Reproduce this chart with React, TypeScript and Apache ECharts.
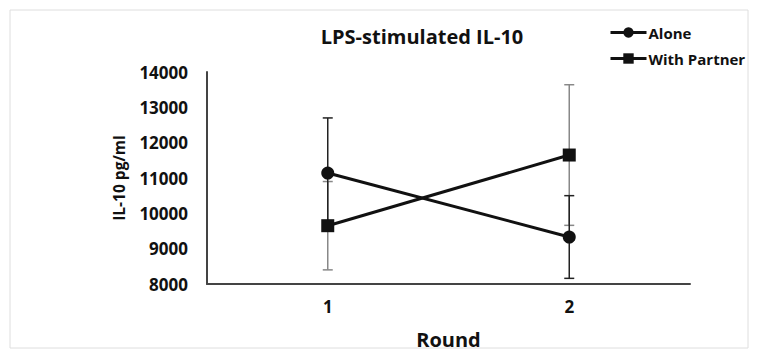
import React, { useEffect, useRef } from "react";
import * as echarts from "echarts";

const categories = ["1", "2"];
const aloneValues = [11140, 9330];
const partnerValues = [9650, 11650];
const aloneErr = [1560, 1170];
const partnerErr = [1250, 1990];
const seriesNames = ["Alone", "With Partner"];
const yTicks = [8000, 14000, 1000];

const FONT = "'Open Sans', 'Noto Sans', sans-serif";

export default function App() {
  const ref = useRef<HTMLDivElement>(null);
  useEffect(() => {
    if (!ref.current) return;
    const chart = echarts.init(ref.current, undefined, { renderer: "svg" });
    const errData = (vals: number[], errs: number[]) =>
      vals.map((v, i) => [i, v - errs[i], v + errs[i]]);
    const errSeries = (name: string, vals: number[], errs: number[], color: string) => ({
      type: "custom",
      name: name + " err",
      z: 1,
      silent: true,
      data: errData(vals, errs),
      renderItem: (params: any, api: any) => {
        const x = api.value(0);
        const lo = api.coord([x, api.value(1)]);
        const hi = api.coord([x, api.value(2)]);
        const cap = 5;
        const style = { stroke: color, lineWidth: 1.5 };
        return {
          type: "group",
          children: [
            { type: "line", shape: { x1: lo[0], y1: lo[1], x2: hi[0], y2: hi[1] }, style },
            { type: "line", shape: { x1: lo[0] - cap, y1: lo[1], x2: lo[0] + cap, y2: lo[1] }, style },
            { type: "line", shape: { x1: hi[0] - cap, y1: hi[1], x2: hi[0] + cap, y2: hi[1] }, style },
          ],
        };
      },
    });
    chart.setOption({
      animation: false,
      backgroundColor: "#fff",
      title: {
        text: "LPS-stimulated IL-10",
        left: 417,
        textAlign: "center",
        top: 21,
        textStyle: { fontFamily: FONT, fontWeight: "bold", fontSize: 20, color: "#111" },
      },
      legend: {
        orient: "vertical",
        left: 604,
        top: 20,
        itemWidth: 36,
        itemHeight: 13,
        itemGap: 11,
        data: seriesNames,
        lineStyle: { width: 3 },
        textStyle: { fontFamily: FONT, fontWeight: "bold", fontSize: 15, color: "#111", padding: [0, 0, 0, -3] },
      },
      graphic: [
        {
          type: "rect",
          shape: { x: 10, y: 10, width: 738, height: 338 },
          style: { fill: "none", stroke: "#dedede", lineWidth: 1 },
          silent: true,
        },
      ],
      grid: { left: 207, right: 67, top: 72, bottom: 74 },
      xAxis: {
        type: "category",
        data: categories,
        name: "Round",
        nameLocation: "middle",
        nameGap: 45,
        nameTextStyle: { fontFamily: FONT, fontWeight: "bold", fontSize: 20, color: "#111" },
        axisLine: { lineStyle: { color: "#444", width: 2 } },
        axisTick: { show: false },
        axisLabel: { fontFamily: FONT, fontWeight: "bold", fontSize: 17, color: "#111", margin: 14 },
      },
      yAxis: {
        type: "value",
        min: yTicks[0],
        max: yTicks[1],
        interval: yTicks[2],
        name: "IL-10 pg/ml",
        nameLocation: "middle",
        nameGap: 80,
        nameTextStyle: { fontFamily: FONT, fontWeight: "bold", fontSize: 15.5, color: "#111" },
        axisLine: { show: true, lineStyle: { color: "#444", width: 2 } },
        axisTick: { show: false },
        splitLine: { show: false },
        axisLabel: {
          fontFamily: FONT,
          fontWeight: "bold",
          fontSize: 17,
          color: "#111",
          margin: 19,
          formatter: (v: number) => String(v),
        },
      },
      series: [
        errSeries(seriesNames[1], partnerValues, partnerErr, "#888"),
        errSeries(seriesNames[0], aloneValues, aloneErr, "#222"),
        {
          type: "line",
          name: seriesNames[0],
          data: aloneValues,
          symbol: "circle",
          symbolSize: 13,
          z: 3,
          lineStyle: { color: "#111", width: 3 },
          itemStyle: { color: "#111" },
        },
        {
          type: "line",
          name: seriesNames[1],
          data: partnerValues,
          symbol: "rect",
          symbolSize: 13,
          z: 3,
          lineStyle: { color: "#111", width: 3 },
          itemStyle: { color: "#111" },
        },
      ],
    });
    return () => chart.dispose();
  }, []);
  return (
    <div
      ref={ref}
      style={{ position: "fixed", left: 0, top: 0, width: 757, height: 358 }}
    />
  );
}
